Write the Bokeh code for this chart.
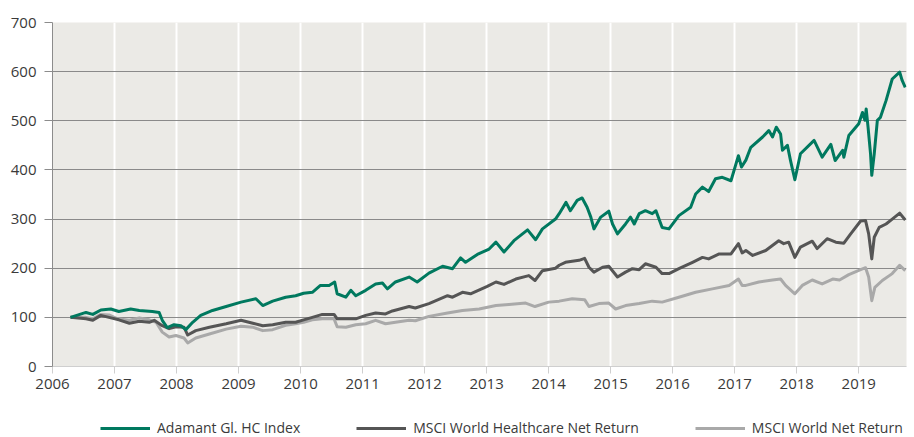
from bokeh.plotting import figure
from bokeh.layouts import column
from bokeh.models import FixedTicker, Legend, LegendItem, Range1d
from bokeh.embed import file_html
from bokeh.resources import INLINE

# ---- data ----
years = list(range(2006, 2020))
yticks = list(range(0, 800, 100))

adamant_t = [2006.29, 2006.54, 2006.65, 2006.78, 2006.94, 2007.07, 2007.26, 2007.40, 2007.61, 2007.72,
             2007.77, 2007.85, 2007.96, 2008.07, 2008.15, 2008.26, 2008.39, 2008.58, 2008.80, 2009.04,
             2009.28, 2009.39, 2009.55, 2009.76, 2009.92, 2010.05, 2010.19, 2010.32, 2010.46, 2010.55,
             2010.59, 2010.73, 2010.81, 2010.89, 2011.05, 2011.21, 2011.32, 2011.40, 2011.53, 2011.75,
             2011.88, 2012.07, 2012.29, 2012.45, 2012.58, 2012.66, 2012.85, 2013.04, 2013.15, 2013.28,
             2013.44, 2013.66, 2013.79, 2013.90, 2014.11, 2014.17, 2014.28, 2014.35, 2014.46, 2014.54,
             2014.62, 2014.68, 2014.73, 2014.84, 2014.97, 2015.03, 2015.11, 2015.24, 2015.32, 2015.38,
             2015.46, 2015.56, 2015.67, 2015.73, 2015.83, 2015.94, 2016.10, 2016.29, 2016.37, 2016.48,
             2016.58, 2016.69, 2016.80, 2016.94, 2017.06, 2017.11, 2017.18, 2017.26, 2017.45, 2017.55,
             2017.61, 2017.67, 2017.74, 2017.77, 2017.85, 2017.90, 2017.97, 2018.06, 2018.28, 2018.41,
             2018.55, 2018.62, 2018.74, 2018.76, 2018.84, 2019.00, 2019.06, 2019.10, 2019.12, 2019.15,
             2019.19, 2019.21, 2019.25, 2019.30, 2019.35, 2019.44, 2019.54, 2019.66, 2019.70, 2019.75]
adamant_v = [100, 110, 106, 115, 117, 112, 117, 114, 112, 110,
             94, 79, 85, 83, 75, 90, 104, 114, 122, 131,
             138, 124, 133, 141, 144, 149, 151, 165, 165, 172,
             148, 141, 155, 144, 155, 168, 170, 158, 172, 182,
             172, 190, 204, 199, 221, 212, 228, 239, 253, 233,
             256, 278, 258, 280, 300, 311, 334, 317, 338, 343,
             324, 304, 280, 304, 316, 290, 270, 290, 304, 290,
             311, 317, 311, 317, 283, 280, 307, 324, 351, 365,
             356, 382, 385, 378, 429, 406, 420, 446, 467, 480,
             467, 487, 473, 440, 450, 419, 380, 433, 460, 426,
             452, 419, 440, 426, 470, 494, 517, 501, 524, 487,
             433, 389, 433, 501, 507, 541, 585, 599, 582, 568]

hc_t = [2006.29, 2006.54, 2006.65, 2006.78, 2006.91, 2007.07, 2007.24, 2007.40, 2007.56, 2007.64,
        2007.77, 2007.88, 2007.99, 2008.12, 2008.18, 2008.31, 2008.53, 2008.80, 2009.04, 2009.23,
        2009.39, 2009.55, 2009.76, 2009.92, 2010.05, 2010.19, 2010.35, 2010.54, 2010.59, 2010.73,
        2010.89, 2011.05, 2011.21, 2011.37, 2011.48, 2011.75, 2011.85, 2012.07, 2012.37, 2012.45,
        2012.61, 2012.74, 2013.01, 2013.15, 2013.28, 2013.47, 2013.68, 2013.78, 2013.90, 2014.11,
        2014.17, 2014.27, 2014.49, 2014.58, 2014.65, 2014.73, 2014.87, 2014.97, 2015.11, 2015.24,
        2015.35, 2015.46, 2015.56, 2015.73, 2015.83, 2015.94, 2016.10, 2016.32, 2016.48, 2016.58,
        2016.75, 2016.94, 2017.06, 2017.12, 2017.18, 2017.29, 2017.50, 2017.71, 2017.79, 2017.87,
        2017.97, 2018.06, 2018.25, 2018.33, 2018.49, 2018.63, 2018.76, 2018.87, 2019.03, 2019.11,
        2019.16, 2019.21, 2019.25, 2019.33, 2019.44, 2019.54, 2019.66, 2019.75]
hc_v = [100, 97, 94, 104, 100, 95, 88, 92, 90, 94,
        83, 77, 81, 80, 64, 73, 80, 87, 94, 88,
        83, 85, 90, 90, 95, 100, 106, 106, 97, 97,
        97, 104, 109, 107, 113, 122, 119, 128, 144, 141,
        151, 148, 163, 172, 167, 178, 185, 175, 195, 200,
        206, 212, 216, 220, 202, 192, 202, 204, 182, 192,
        199, 197, 209, 202, 189, 189, 199, 212, 222, 219,
        229, 229, 250, 231, 236, 226, 236, 256, 250, 253,
        222, 243, 255, 240, 260, 253, 251, 270, 296, 297,
        270, 219, 263, 283, 290, 300, 312, 298]

world_t = [2006.29, 2006.54, 2006.65, 2006.78, 2006.91, 2007.05, 2007.24, 2007.40, 2007.56, 2007.67,
           2007.77, 2007.88, 2007.99, 2008.12, 2008.18, 2008.31, 2008.53, 2008.80, 2009.04, 2009.23,
           2009.39, 2009.55, 2009.76, 2009.92, 2010.05, 2010.19, 2010.35, 2010.54, 2010.59, 2010.73,
           2010.89, 2011.05, 2011.21, 2011.37, 2011.53, 2011.75, 2011.85, 2012.07, 2012.37, 2012.61,
           2012.88, 2013.15, 2013.36, 2013.63, 2013.78, 2014.00, 2014.17, 2014.38, 2014.58, 2014.65,
           2014.81, 2014.97, 2015.08, 2015.24, 2015.46, 2015.67, 2015.83, 2016.10, 2016.37, 2016.64,
           2016.91, 2017.06, 2017.12, 2017.18, 2017.39, 2017.61, 2017.74, 2017.82, 2017.97, 2018.09,
           2018.25, 2018.41, 2018.58, 2018.69, 2018.84, 2019.03, 2019.11, 2019.16, 2019.21, 2019.26,
           2019.38, 2019.54, 2019.66, 2019.75]
world_v = [100, 100, 97, 106, 105, 97, 94, 99, 95, 90,
           70, 60, 63, 58, 48, 58, 66, 76, 82, 80,
           73, 75, 84, 87, 90, 95, 97, 97, 81, 80,
           85, 87, 94, 87, 90, 94, 93, 102, 109, 114,
           117, 124, 126, 129, 122, 131, 133, 138, 136, 122,
           128, 129, 117, 124, 128, 133, 131, 141, 151, 158,
           165, 178, 165, 165, 172, 176, 178, 165, 148, 165,
           176, 168, 178, 176, 187, 197, 201, 182, 134, 161,
           175, 189, 206, 195]

series_names = ["Adamant Gl. HC Index", "MSCI World Healthcare Net Return", "MSCI World Net Return"]
colors = ["#00795f", "#555555", "#a9a9a9"]
series_t = [adamant_t, hc_t, world_t]
series_v = [adamant_v, hc_v, world_v]

FONT = "Open Sans"
TXT = "#3a3a3a"

# ---- main chart ----
p = figure(width=908, height=405, output_backend="svg", toolbar_location=None,
           x_range=Range1d(2006, 2019.77), y_range=Range1d(0, 700),
           min_border_left=52, min_border_right=2, min_border_top=22, min_border_bottom=39)
p.background_fill_color = "#ebeae6"
p.border_fill_color = "white"
p.outline_line_color = None

p.xgrid.ticker = FixedTicker(ticks=years[1:])
p.xgrid.grid_line_color = "white"
p.xgrid.grid_line_width = 2
p.ygrid.ticker = FixedTicker(ticks=yticks[1:])
p.ygrid.grid_line_color = "#8a8a8a"
p.ygrid.grid_line_width = 1

p.xaxis.ticker = FixedTicker(ticks=years)
p.yaxis.ticker = FixedTicker(ticks=yticks)
for ax in (p.xaxis, p.yaxis):
    ax.major_label_text_font = FONT
    ax.major_label_text_font_size = "15px"
    ax.major_label_text_color = TXT
    ax.minor_tick_line_color = None
    ax.major_tick_in = 0
p.xaxis.axis_line_color = "#cfcfcf"
p.xaxis.major_tick_line_color = "#cfcfcf"
p.xaxis.major_tick_out = 7
p.xaxis.major_label_standoff = 5
p.yaxis.axis_line_color = "#8c8c8c"
p.yaxis.major_tick_line_color = "#8c8c8c"
p.yaxis.major_tick_out = 8
p.yaxis.major_label_standoff = 8

for i in (2, 1, 0):
    p.line(series_t[i], series_v[i], line_color=colors[i], line_width=3, line_join="round")

# ---- legend strip (its lines fall outside its own tiny frame, only the legend shows) ----
lg = figure(width=908, height=32, output_backend="svg", toolbar_location=None,
            x_axis_type=None, y_axis_type=None, x_range=Range1d(0, 1), y_range=Range1d(0, 1),
            min_border_left=52, min_border_right=2, min_border_top=0, min_border_bottom=0)
lg.outline_line_color = None
lg.grid.visible = False
items = []
for name, col, t, v in zip(series_names, colors, series_t, series_v):
    r = lg.line(t, v, line_color=col, line_width=3)
    items.append(LegendItem(label=name, renderers=[r]))
leg = Legend(items=items, location=(48, 0), orientation="horizontal", glyph_width=50,
             glyph_height=16, label_height=16, label_standoff=7, spacing=56, padding=0, margin=0,
             border_line_alpha=0, background_fill_alpha=0, label_text_font=FONT,
             label_text_font_size="14px", label_text_color=TXT)
lg.add_layout(leg)

open("out.html", "w").write(file_html(column(p, lg, spacing=0), INLINE))
